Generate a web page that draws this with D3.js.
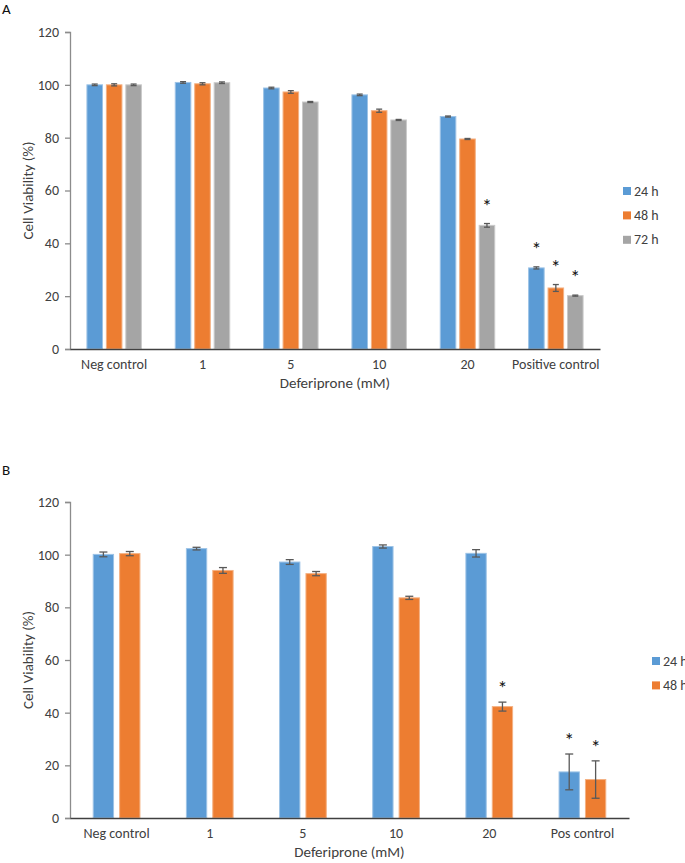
<!DOCTYPE html>
<html>
<head>
<meta charset="utf-8">
<script src="https://cdn.jsdelivr.net/npm/d3@7"></script>
<style>
  body { margin: 0; background: #fff; }
  text { font-family: Carlito, Lato, "Liberation Sans", sans-serif; fill: #404040; }
</style>
</head>
<body>
<div id="vis"></div>
<script>
// Categories and series
var catsA = ['Neg control', '1', '5', '10', '20', 'Positive control'];
var catsB = ['Neg control', '1', '5', '10', '20', 'Pos control'];
var yTicks = [0, 20, 40, 60, 80, 100, 120];

// Panel A values (% viability) and SEM
var a24 = [100.0, 100.9, 98.8, 96.2, 88.0, 30.7];
var a48 = [100.0, 100.4, 97.3, 90.2, 79.5, 23.1];
var a72 = [100.0, 100.8, 93.5, 86.7, 46.8, 20.2];
var a24err = [0.3, 0.3, 0.3, 0.3, 0.2, 0.4];
var a48err = [0.4, 0.4, 0.5, 0.6, 0.2, 1.3];
var a72err = [0.3, 0.3, 0.2, 0.2, 0.7, 0.2];
// significance flags (*)
var a24sig = [0, 0, 0, 0, 0, 1];
var a48sig = [0, 0, 0, 0, 0, 1];
var a72sig = [0, 0, 0, 0, 1, 1];

// Panel B values and SEM
var b24 = [100.1, 102.3, 97.2, 103.1, 100.5, 17.5];
var b48 = [100.4, 94.0, 92.8, 83.6, 42.3, 14.6];
var b24err = [0.9, 0.5, 0.9, 0.6, 1.4, 6.8];
var b48err = [0.8, 1.1, 0.8, 0.6, 1.7, 7.1];
var b24sig = [0, 0, 0, 0, 0, 1];
var b48sig = [0, 0, 0, 0, 1, 1];

var seriesNames = ['24 h', '48 h', '72 h'];
var colors = ['#5b9bd5', '#ed7d31', '#a5a5a5'];
var edgeColors = ['#9dc3e6', '#f4b183', '#c9c9c9'];

var width = 685, height = 863;

var svg = d3.select('#vis').append('svg')
    .attr('width', width)
    .attr('height', height);

function drawPanel(opt) {
    var g = svg.append('g');

    var x0 = d3.scaleBand()
        .domain(opt.cats)
        .range([opt.left, opt.right]);

    var x1 = d3.scaleBand()
        .domain(d3.range(opt.series.length))
        .range([0, x0.bandwidth()])
        .paddingInner(opt.innerPad)
        .paddingOuter(opt.outerPad);

    var y = d3.scaleLinear()
        .domain([0, 120])
        .range([opt.bottom, opt.top]);

    // y axis
    var yAxis = d3.axisLeft(y).tickValues(yTicks).tickSize(5).tickPadding(6);
    var ya = g.append('g')
        .attr('transform', `translate(${opt.left},0)`)
        .call(yAxis);
    ya.select('.domain').attr('stroke', '#8c8c8c').attr('stroke-width', 1.3);
    ya.selectAll('.tick line').attr('stroke', '#8c8c8c').attr('stroke-width', 1.3);
    ya.selectAll('.tick text')
        .style('font-size', '14px')
        .attr('fill', '#404040')
        .attr('font-family', null);

    // bars
    opt.series.forEach(function(vals, si) {
        g.selectAll('.bar' + si)
            .data(vals)
            .enter().append('rect')
            .attr('x', (d, i) => x0(opt.cats[i]) + x1(si))
            .attr('y', d => y(d))
            .attr('width', x1.bandwidth())
            .attr('height', d => y(0) - y(d))
            .attr('fill', colors[si])
            .attr('stroke', edgeColors[si])
            .attr('stroke-width', 1);

        // error bars
        var errs = opt.errs[si];
        var cap = opt.cap;
        vals.forEach(function(v, i) {
            var cx = x0(opt.cats[i]) + x1(si) + x1.bandwidth() / 2;
            var yt = y(v + errs[i]), yb = y(v - errs[i]);
            g.append('line').attr('x1', cx).attr('x2', cx).attr('y1', yt).attr('y2', yb)
                .attr('stroke', '#595959').attr('stroke-width', 1.3);
            g.append('line').attr('x1', cx - cap).attr('x2', cx + cap).attr('y1', yt).attr('y2', yt)
                .attr('stroke', '#595959').attr('stroke-width', 1.3);
            g.append('line').attr('x1', cx - cap).attr('x2', cx + cap).attr('y1', yb).attr('y2', yb)
                .attr('stroke', '#595959').attr('stroke-width', 1.3);
            if (opt.sigs[si][i]) {
                // asterisk glyph centre sits about 0.57em above the baseline
                g.append('text')
                    .attr('x', cx)
                    .attr('y', yt - opt.starGap + 11)
                    .attr('text-anchor', 'middle')
                    .style('font-size', '20px')
                    .style('fill', '#111')
                    .text('*');
            }
        });
    });

    // x axis line
    var xa = d3.axisBottom(x0).tickSize(0).tickPadding(10);
    var xg = g.append('g')
        .attr('transform', `translate(0,${opt.bottom})`)
        .call(xa);
    xg.select('.domain').attr('stroke', '#404040').attr('stroke-width', 1.3);
    xg.selectAll('.tick text')
        .style('font-size', '14px')
        .attr('fill', '#404040')
        .attr('font-family', null);

    // axis titles
    g.append('text')
        .attr('x', (opt.left + opt.right) / 2)
        .attr('y', opt.bottom + 39)
        .attr('text-anchor', 'middle')
        .style('font-size', '15px')
        .text('Deferiprone (mM)');

    g.append('text')
        .attr('transform', `translate(${opt.left - 42},${(opt.top + opt.bottom) / 2}) rotate(-90)`)
        .attr('text-anchor', 'middle')
        .attr('dominant-baseline', 'central')
        .style('font-size', '15px')
        .text('Cell Viability (%)');

    // panel letter
    g.append('text')
        .attr('x', 2)
        .attr('y', opt.letterY)
        .style('font-size', '15px')
        .style('fill', '#111')
        .text(opt.letter);

    // legend
    var leg = g.append('g').attr('transform', `translate(${opt.legX},${opt.legY})`);
    opt.series.forEach(function(vals, si) {
        var row = leg.append('g').attr('transform', `translate(0,${si * 24.4})`);
        row.append('rect').attr('x', 0).attr('y', -4).attr('width', 8).attr('height', 8)
            .attr('fill', colors[si]);
        row.append('text').attr('x', 11).attr('y', 0)
            .attr('dominant-baseline', 'central')
            .style('font-size', '14px')
            .text(seriesNames[si]);
    });
}

drawPanel({
    letter: 'A', letterY: 14,
    cats: catsA,
    series: [a24, a48, a72],
    errs: [a24err, a48err, a72err],
    sigs: [a24sig, a48sig, a72sig],
    left: 70, right: 600, top: 32, bottom: 349,
    innerPad: 0.2, outerPad: 0.87, cap: 3, starGap: 22,
    legX: 623, legY: 191
});

drawPanel({
    letter: 'B', letterY: 475,
    cats: catsB,
    series: [b24, b48],
    errs: [b24err, b48err],
    sigs: [b24sig, b48sig],
    left: 70, right: 629, top: 502, bottom: 818,
    innerPad: 0.23, outerPad: 0.88, cap: 4, starGap: 18,
    legX: 652, legY: 661
});
</script>
</body>
</html>
